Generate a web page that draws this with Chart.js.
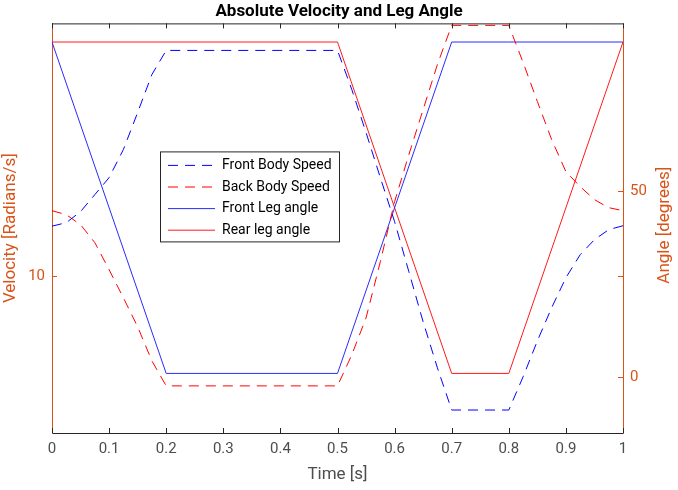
<!DOCTYPE html>
<html>
<head>
<meta charset="utf-8">
<script src="https://cdn.jsdelivr.net/npm/chart.js@4.4.1/dist/chart.umd.min.js"></script>
<style>
  html, body { margin: 0; padding: 0; background: #fff; }
  canvas { display: block; }
</style>
</head>
<body>
<canvas id="velocity-chart" width="678" height="490"></canvas>
<script>
// Body speed samples (left axis, log scale)
const speedTime = [0, 0.025, 0.05, 0.075, 0.1, 0.125, 0.15, 0.175, 0.2,
                   0.5, 0.525, 0.55, 0.575, 0.6, 0.625, 0.65, 0.675, 0.7,
                   0.8, 0.825, 0.85, 0.875, 0.9, 0.925, 0.95, 0.975, 1.0];
const frontSpeed = [14.72, 15.12, 16.46, 18.76, 21.38, 26.53, 35.28, 47.27, 56.87,
                    56.87, 42.11, 30.24, 21.38, 15.24, 10.37, 7.05, 4.95, 3.58,
                    3.58, 4.62, 6.09, 7.86, 9.90, 11.82, 13.27, 14.33, 14.77];
const backSpeed = [16.58, 16.08, 14.89, 12.97, 10.53, 8.49, 6.79, 5.22, 4.31,
                   4.31, 5.47, 7.27, 11.20, 17.77, 25.53, 36.10, 51.07, 68.95,
                   68.95, 51.86, 38.40, 28.66, 22.39, 19.95, 18.05, 16.97, 16.58];

// Leg angles (right axis, degrees)
const angleTime = [0, 0.2, 0.5, 0.7, 0.8, 1.0];
const frontAngle = [90, 1, 1, 90, 90, 90];
const rearAngle = [90, 90, 90, 1, 1, 90];

// Tick values
const timeTicks = [0, 0.1, 0.2, 0.3, 0.4, 0.5, 0.6, 0.7, 0.8, 0.9, 1];
const speedTicks = [10];
const angleTicks = [0, 50];

const seriesLabels = ['Front Body Speed', 'Back Body Speed', 'Front Leg angle', 'Rear leg angle'];

const AXIS_ORANGE = '#D95319';
const AXIS_GRAY = '#262626';
const FONT = 'Roboto, "Noto Sans", sans-serif';
const TICK = 5;

function pairs(xs, ys) {
    return xs.map((x, i) => ({ x: x, y: ys[i] }));
}

// MATLAB-like box: inward ticks on all sides, top border, legend, right label
const matlabAxes = {
    id: 'matlabAxes',
    afterDatasetsDraw(chart) {
        const { ctx, chartArea: a, scales } = chart;
        ctx.save();
        ctx.lineWidth = 1;

        // top edge of the box
        ctx.strokeStyle = AXIS_GRAY;
        ctx.beginPath();
        ctx.moveTo(a.left, a.top + 0.5);
        ctx.lineTo(a.right, a.top + 0.5);
        ctx.stroke();

        // time ticks, bottom and top
        ctx.beginPath();
        scales.x.ticks.forEach(t => {
            const px = Math.round(scales.x.getPixelForValue(t.value)) + 0.5;
            ctx.moveTo(px, a.bottom);
            ctx.lineTo(px, a.bottom - TICK);
            ctx.moveTo(px, a.top);
            ctx.lineTo(px, a.top + TICK);
        });
        ctx.stroke();

        // velocity ticks, left and mirrored on right
        ctx.strokeStyle = AXIS_ORANGE;
        ctx.beginPath();
        scales.y.ticks.forEach(t => {
            const py = Math.round(scales.y.getPixelForValue(t.value)) + 0.5;
            ctx.moveTo(a.left, py);
            ctx.lineTo(a.left + TICK, py);
            ctx.moveTo(a.right, py);
            ctx.lineTo(a.right - TICK, py);
        });
        // angle ticks on right
        scales.y1.ticks.forEach(t => {
            const py = Math.round(scales.y1.getPixelForValue(t.value)) + 0.5;
            ctx.moveTo(a.right, py);
            ctx.lineTo(a.right - TICK, py);
        });
        ctx.stroke();

        // right axis label, reading bottom to top
        ctx.fillStyle = AXIS_ORANGE;
        ctx.font = '17px ' + FONT;
        ctx.textAlign = 'center';
        ctx.textBaseline = 'middle';
        ctx.translate(665, (a.top + a.bottom) / 2 - 3);
        ctx.rotate(-Math.PI / 2);
        ctx.fillText('Angle [degrees]', 0, 0);
        ctx.restore();

        // legend box
        ctx.save();
        const bx = a.left + 108, by = a.top + 128, bw = 179, bh = 90;
        ctx.fillStyle = '#fff';
        ctx.fillRect(bx, by, bw, bh);
        ctx.strokeStyle = AXIS_GRAY;
        ctx.lineWidth = 1;
        ctx.strokeRect(bx + 0.5, by + 0.5, bw, bh);
        ctx.font = '14px ' + FONT;
        ctx.textAlign = 'left';
        ctx.textBaseline = 'middle';
        chart.data.datasets.forEach((ds, i) => {
            const ry = by + 14 + i * 21.6;
            ctx.strokeStyle = ds.borderColor;
            ctx.setLineDash(ds.borderDash || []);
            ctx.beginPath();
            ctx.moveTo(bx + 8, ry);
            ctx.lineTo(bx + 55, ry);
            ctx.stroke();
            ctx.setLineDash([]);
            ctx.fillStyle = '#000';
            ctx.fillText(ds.label, bx + 62, ry);
        });
        ctx.restore();
    }
};

const ctx = document.getElementById('velocity-chart').getContext('2d');

let chart = new Chart(ctx, {
    type: 'line',
    data: {
        datasets: [{
            label: seriesLabels[0],
            data: pairs(speedTime, frontSpeed),
            yAxisID: 'y',
            borderColor: '#0000ff',
            borderDash: [10, 7],
            borderWidth: 1,
            pointRadius: 0,
            tension: 0
        }, {
            label: seriesLabels[1],
            data: pairs(speedTime, backSpeed),
            yAxisID: 'y',
            borderColor: '#ff0000',
            borderDash: [10, 7],
            borderWidth: 1,
            pointRadius: 0,
            tension: 0
        }, {
            label: seriesLabels[2],
            data: pairs(angleTime, frontAngle),
            yAxisID: 'y1',
            borderColor: '#2b2bff',
            borderWidth: 1,
            pointRadius: 0,
            tension: 0
        }, {
            label: seriesLabels[3],
            data: pairs(angleTime, rearAngle),
            yAxisID: 'y1',
            borderColor: '#ff1a1a',
            borderWidth: 1,
            pointRadius: 0,
            tension: 0
        }]
    },
    options: {
        responsive: false,
        animation: false,
        events: [],
        layout: { padding: 0 },
        plugins: {
            legend: { display: false },
            tooltip: { enabled: false },
            title: {
                display: true,
                text: 'Absolute Velocity and Leg Angle',
                color: '#000',
                font: { family: FONT, size: 17, weight: 'bold' },
                padding: { top: 2, bottom: 1 }
            }
        },
        scales: {
            x: {
                type: 'linear',
                position: 'bottom',
                min: 0,
                max: 1,
                afterBuildTicks: s => { s.ticks = timeTicks.map(v => ({ value: v })); },
                afterFit: s => { s.height = 57; },
                grid: { display: false, drawTicks: false },
                border: { display: true, color: AXIS_GRAY, width: 1 },
                ticks: {
                    color: '#4d4d4d',
                    padding: 7,
                    maxRotation: 0,
                    font: { family: FONT, size: 15 },
                    callback: v => String(Math.round(v * 10) / 10)
                },
                title: {
                    display: true,
                    text: 'Time [s]',
                    color: '#4d4d4d',
                    font: { family: FONT, size: 17 },
                    padding: { top: 0, bottom: 5 }
                }
            },
            y: {
                type: 'logarithmic',
                position: 'left',
                min: 3,
                max: 70,
                afterBuildTicks: s => { s.ticks = speedTicks.map(v => ({ value: v })); },
                afterFit: s => { s.width = 52; },
                grid: { display: false, drawTicks: false },
                border: { display: true, color: AXIS_ORANGE, width: 1 },
                ticks: {
                    color: AXIS_ORANGE,
                    padding: 7,
                    font: { family: FONT, size: 15 },
                    callback: v => String(v)
                },
                title: {
                    display: true,
                    text: 'Velocity [Radians/s]',
                    color: AXIS_ORANGE,
                    font: { family: FONT, size: 17 },
                    padding: { top: 1, bottom: 0 }
                }
            },
            y1: {
                type: 'linear',
                position: 'right',
                min: -15,
                max: 95,
                afterBuildTicks: s => { s.ticks = angleTicks.map(v => ({ value: v })); },
                afterFit: s => { s.width = 55; },
                grid: { display: false, drawTicks: false },
                border: { display: true, color: AXIS_ORANGE, width: 1 },
                ticks: {
                    color: AXIS_ORANGE,
                    padding: 7,
                    font: { family: FONT, size: 15 },
                    callback: v => String(v)
                }
            }
        }
    },
    plugins: [matlabAxes]
});
</script>
</body>
</html>
